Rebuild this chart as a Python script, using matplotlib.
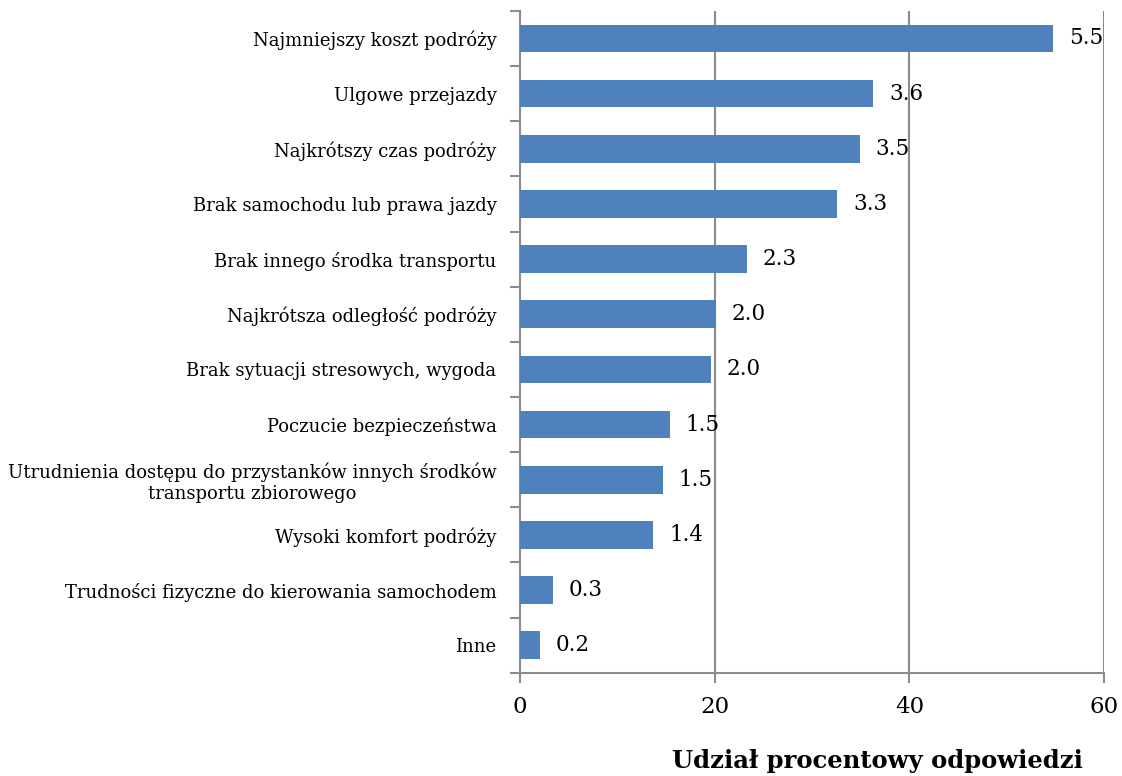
import numpy as np
import matplotlib.pyplot as plt

plt.rcParams['font.family'] = ['DejaVu Serif']

# reasons, top to bottom
categories = ['Najmniejszy koszt podróży',
              'Ulgowe przejazdy',
              'Najkrótszy czas podróży',
              'Brak samochodu lub prawa jazdy',
              'Brak innego środka transportu',
              'Najkrótsza odległość podróży',
              'Brak sytuacji stresowych, wygoda',
              'Poczucie bezpieczeństwa',
              'Utrudnienia dostępu do przystanków innych środków\ntransportu zbiorowego',
              'Wysoki komfort podróży',
              'Trudności fizyczne do kierowania samochodem',
              'Inne']
shares = [54.8, 36.3, 34.9, 32.6, 23.3, 20.1, 19.6, 15.4, 14.7, 13.7, 3.4, 2.1]
x_ticks = [0, 20, 40, 60]

bar_color = '#4f81bd'
grid_color = '#8c8c8c'

fig = plt.figure(figsize=(11.22, 7.76), dpi=100)
ax = fig.add_axes([0.4635, 0.133, 0.5205, 0.853])

y = np.arange(len(categories))
ax.barh(y, shares, height=0.5, color=bar_color, zorder=3)

for yi, v in zip(y, shares):
    ax.text(v + 1.6, yi, '%.1f' % round(v / 10, 1), va='center', ha='left',
            fontsize=15.5, zorder=4)

ax.set_xlim(0, 60)
ax.set_ylim(len(categories) - 0.5, -0.5)
ax.set_xticks(x_ticks)
ax.set_xticklabels([str(t) for t in x_ticks], fontsize=16.5)
ax.set_yticks(y)
ax.set_yticklabels(categories, fontsize=13, multialignment='center')
ax.tick_params(axis='y', length=0, pad=17)
ax.tick_params(axis='x', length=7, width=1.5, color=grid_color, pad=10)

# ticks on the left spine sit between categories
ax.set_yticks(np.arange(-0.5, len(categories), 1), minor=True)
ax.tick_params(axis='y', which='minor', length=7, width=1.5, color=grid_color)

ax.grid(axis='x', color=grid_color, lw=1.5, zorder=0)
for side in ['top', 'right']:
    ax.spines[side].set_visible(False)
for side in ['left', 'bottom']:
    ax.spines[side].set_color(grid_color)
    ax.spines[side].set_linewidth(1.5)

fig.text(0.965, 0.004, 'Udział procentowy odpowiedzi', ha='right', va='bottom',
         fontsize=17.5, fontweight='bold')

fig.savefig('out.png', dpi=100)
